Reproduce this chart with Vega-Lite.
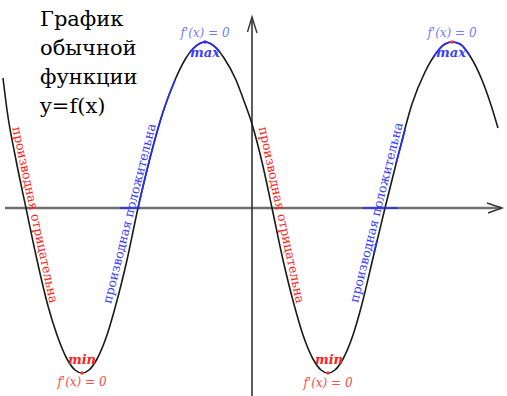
{
  "$schema": "https://vega.github.io/schema/vega-lite/v6.json",
  "width": 507,
  "height": 396,
  "autosize": {"type": "none"},
  "padding": 0,
  "background": "white",
  "config": {"view": {"stroke": null}, "text": {"font": "DejaVu Serif"}},
  "datasets": {
    "haxis": [{"i": 0, "x": -24.7, "y": 0}, {"i": 1, "x": 25.0, "y": 0}],
    "vaxis": [{"i": 0, "x": 0, "y": -18.8}, {"i": 1, "x": 0, "y": 19.0}],
    "arrows": [
      {"g": "v", "i": 0, "x": -0.45, "y": 17.6}, {"g": "v", "i": 1, "x": 0, "y": 19.1}, {"g": "v", "i": 2, "x": 0.5, "y": 17.5},
      {"g": "h", "i": 0, "x": 23.5, "y": 0.5}, {"g": "h", "i": 1, "x": 25.0, "y": 0}, {"g": "h", "i": 2, "x": 23.6, "y": -0.5}
    ],
    "curve": [
      {"x": -24.9, "y": 13.0}, {"x": -24.5, "y": 9.8}, {"x": -23.6, "y": 4.8}, {"x": -22.6, "y": 0},
      {"x": -21.5, "y": -5.2}, {"x": -20.4, "y": -9.8}, {"x": -19.5, "y": -12.7}, {"x": -18.5, "y": -15.1},
      {"x": -17.7, "y": -16.2}, {"x": -17.0, "y": -16.5}, {"x": -16.3, "y": -16.2}, {"x": -15.5, "y": -15.1},
      {"x": -14.5, "y": -12.7}, {"x": -13.7, "y": -10.0}, {"x": -12.5, "y": -5.2}, {"x": -11.4, "y": 0},
      {"x": -10.2, "y": 5.0}, {"x": -8.9, "y": 9.6}, {"x": -7.7, "y": 12.8}, {"x": -6.6, "y": 15.0},
      {"x": -5.6, "y": 16.2}, {"x": -4.7, "y": 16.6}, {"x": -3.8, "y": 16.2}, {"x": -2.8, "y": 15.0},
      {"x": -1.6, "y": 12.8}, {"x": -0.8, "y": 10.7}, {"x": 0, "y": 8.4}, {"x": 1.0, "y": 4.6},
      {"x": 2.0, "y": 0}, {"x": 3.1, "y": -5.2}, {"x": 4.3, "y": -10.0}, {"x": 5.1, "y": -12.7},
      {"x": 6.1, "y": -15.1}, {"x": 6.9, "y": -16.2}, {"x": 7.6, "y": -16.5}, {"x": 8.3, "y": -16.2},
      {"x": 9.1, "y": -15.1}, {"x": 10.1, "y": -12.7}, {"x": 11.0, "y": -9.6}, {"x": 12.1, "y": -5.0},
      {"x": 13.3, "y": 0}, {"x": 14.6, "y": 5.2}, {"x": 16.0, "y": 10.4}, {"x": 17.3, "y": 13.6},
      {"x": 18.5, "y": 15.6}, {"x": 19.3, "y": 16.4}, {"x": 20.0, "y": 16.6}, {"x": 20.8, "y": 16.4},
      {"x": 21.8, "y": 15.2}, {"x": 23.0, "y": 12.8}, {"x": 23.8, "y": 10.6}, {"x": 24.6, "y": 8.0}
    ],
    "blue": [
      {"g": "a", "x": -11.4, "y": 0}, {"g": "a", "x": -10.2, "y": 5.0}, {"g": "a", "x": -8.9, "y": 9.6}, {"g": "a", "x": -7.7, "y": 12.8},
      {"g": "b", "x": -6.2, "y": 15.6}, {"g": "b", "x": -5.6, "y": 16.2}, {"g": "b", "x": -4.7, "y": 16.6}, {"g": "b", "x": -3.8, "y": 16.2}, {"g": "b", "x": -3.2, "y": 15.6},
      {"g": "c", "x": 14.4, "y": 4.5}, {"g": "c", "x": 14.6, "y": 5.2}, {"g": "c", "x": 15.3, "y": 7.8},
      {"g": "d", "x": 12.2, "y": -4.5}, {"g": "d", "x": 12.5, "y": -3.2},
      {"g": "e", "x": 18.1, "y": 15.0}, {"g": "e", "x": 18.5, "y": 15.6}, {"g": "e", "x": 19.3, "y": 16.4}, {"g": "e", "x": 20.0, "y": 16.6}, {"g": "e", "x": 20.8, "y": 16.4}, {"g": "e", "x": 21.8, "y": 15.2},
      {"g": "f", "x": -13.2, "y": 0}, {"g": "f", "x": -11.2, "y": 0},
      {"g": "h", "x": 11.1, "y": 0}, {"g": "h", "x": 14.6, "y": 0}
    ],
    "reddots": [{"x": -17.0, "y": -16.5}, {"x": 7.6, "y": -16.5}, {"x": 20.0, "y": 16.6}],
    "bluedots": [{"x": -4.7, "y": 16.6}],
    "title": [{"x": -21.2, "y": 18.2, "t": "График\nобычной\nфункции\ny=f(x)"}],
    "redrot": [{"x": -21.7, "y": -0.7, "t": "производная отрицательна"}, {"x": 2.95, "y": -0.7, "t": "производная отрицательна"}],
    "bluerot": [{"x": -12.25, "y": -0.55, "t": "производная положительна"}, {"x": 12.45, "y": -0.45, "t": "производная положительна"}],
    "bluederiv": [{"x": -4.7, "y": 17.5, "t": "f'(x) = 0"}, {"x": 20.0, "y": 17.5, "t": "f'(x) = 0"}],
    "maxlab": [{"x": -4.7, "y": 15.5, "t": "max"}, {"x": 19.9, "y": 15.5, "t": "max"}],
    "minlab": [{"x": -17.0, "y": -15.2, "t": "min"}, {"x": 7.7, "y": -15.2, "t": "min"}],
    "redderiv": [{"x": -17.0, "y": -17.4, "t": "f'(x) = 0"}, {"x": 7.6, "y": -17.5, "t": "f'(x) = 0"}]
  },
  "encoding": {
    "x": {"field": "x", "type": "quantitative", "scale": {"domain": [-25.2, 25.5], "nice": false, "zero": false}, "axis": null},
    "y": {"field": "y", "type": "quantitative", "scale": {"domain": [-18.8, 20.8], "nice": false, "zero": false}, "axis": null}
  },
  "layer": [
    {"data": {"name": "haxis"}, "mark": {"type": "line", "color": "#707070", "strokeWidth": 2.6}, "encoding": {"order": {"field": "i"}}},
    {"data": {"name": "vaxis"}, "mark": {"type": "line", "color": "#333333", "strokeWidth": 1.6}, "encoding": {"order": {"field": "i"}}},
    {"data": {"name": "arrows"}, "mark": {"type": "line", "color": "#333333", "strokeWidth": 1.4}, "encoding": {"detail": {"field": "g"}, "order": {"field": "i"}}},
    {"data": {"name": "curve"}, "mark": {"type": "line", "color": "#1a1a1a", "strokeWidth": 1.6, "interpolate": "monotone"}, "encoding": {}},
    {"data": {"name": "blue"}, "mark": {"type": "line", "color": "#2a2aff", "strokeWidth": 1.6, "interpolate": "monotone"}, "encoding": {"detail": {"field": "g"}}},
    {"data": {"name": "reddots"}, "mark": {"type": "circle", "color": "#ff3030", "size": 12, "opacity": 1}},
    {"data": {"name": "bluedots"}, "mark": {"type": "circle", "color": "#3030ff", "size": 12, "opacity": 1}},
    {"data": {"name": "title"}, "mark": {"type": "text", "font": "DejaVu Serif", "fontSize": 21, "align": "left", "baseline": "alphabetic", "lineBreak": "\n", "lineHeight": 29, "color": "black"}, "encoding": {"text": {"field": "t"}}},
    {"data": {"name": "redrot"}, "mark": {"type": "text", "font": "DejaVu Serif", "fontSize": 12.5, "align": "center", "baseline": "middle", "angle": 78, "color": "#ff1a1a"}, "encoding": {"text": {"field": "t"}}},
    {"data": {"name": "bluerot"}, "mark": {"type": "text", "font": "DejaVu Serif", "fontSize": 12.5, "align": "center", "baseline": "middle", "angle": -76, "color": "#3a3aff"}, "encoding": {"text": {"field": "t"}}},
    {"data": {"name": "bluederiv"}, "mark": {"type": "text", "font": "DejaVu Serif", "fontSize": 12, "fontStyle": "italic", "align": "center", "baseline": "middle", "color": "#7777ff"}, "encoding": {"text": {"field": "t"}}},
    {"data": {"name": "maxlab"}, "mark": {"type": "text", "font": "DejaVu Serif", "fontSize": 13, "fontStyle": "italic", "fontWeight": "bold", "align": "center", "baseline": "middle", "color": "#4040ff"}, "encoding": {"text": {"field": "t"}}},
    {"data": {"name": "minlab"}, "mark": {"type": "text", "font": "DejaVu Serif", "fontSize": 13, "fontStyle": "italic", "fontWeight": "bold", "align": "center", "baseline": "middle", "color": "#ff2020"}, "encoding": {"text": {"field": "t"}}},
    {"data": {"name": "redderiv"}, "mark": {"type": "text", "font": "DejaVu Serif", "fontSize": 12, "fontStyle": "italic", "align": "center", "baseline": "middle", "color": "#ff4a4a"}, "encoding": {"text": {"field": "t"}}}
  ]
}
